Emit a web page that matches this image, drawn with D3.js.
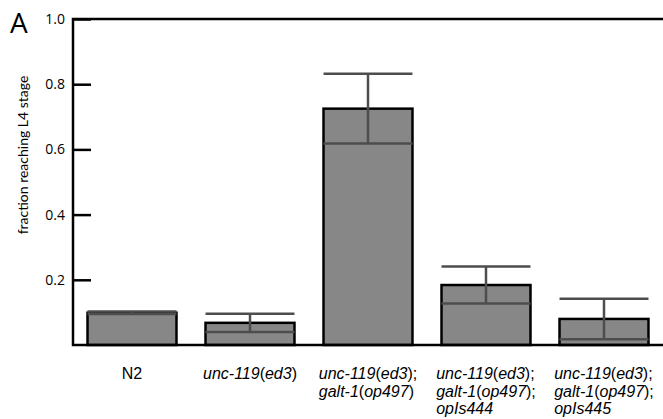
<!DOCTYPE html>
<html>
<head>
<meta charset="utf-8">
<script src="https://cdn.jsdelivr.net/npm/d3@7"></script>
<style>
  body { margin: 0; background: #fff; }
  svg { display: block; }
</style>
</head>
<body>
<div id="chart"></div>
<script>
// strains on the x axis, label lines use *...* for italic parts
var strains = ['N2', 'unc-119', 'unc-119;galt-1', 'unc-119;galt-1;opIs444', 'unc-119;galt-1;opIs445'];
var labelLines = [
  ['N2'],
  ['*unc-119*(*ed3*)'],
  ['*unc-119*(*ed3*);', '*galt-1*(*op497*)'],
  ['*unc-119*(*ed3*);', '*galt-1*(*op497*);', '*opIs444*'],
  ['*unc-119*(*ed3*);', '*galt-1*(*op497*);', '*opIs445*']
];
var fractionL4 = [0.099, 0.068, 0.725, 0.184, 0.080];
var errL4 = [0.004, 0.028, 0.107, 0.057, 0.062];
var yTicks = [0.2, 0.4, 0.6, 0.8, 1.0];

var W = 663, H = 419;
var margin = {top: 19, right: 0, bottom: 74, left: 73};

var svg = d3.select('#chart').append('svg')
    .attr('width', W)
    .attr('height', H);

var x = d3.scaleBand()
    .domain(strains)
    .range([margin.left, W - margin.right])
    .paddingInner(0.246)
    .paddingOuter(0.123);

var y = d3.scaleLinear()
    .domain([0, 1])
    .range([H - margin.bottom, margin.top]);

//bars
svg.append('g').selectAll('rect')
    .data(strains)
    .enter().append('rect')
    .attr('x', function(d) { return x(d); })
    .attr('y', function(d, i) { return y(fractionL4[i]); })
    .attr('width', x.bandwidth())
    .attr('height', function(d, i) { return y(0) - y(fractionL4[i]); })
    .attr('fill', '#878787')
    .attr('stroke', '#000')
    .attr('stroke-width', 2.5);

//error bars, caps as wide as the bar
var eb = svg.append('g')
    .attr('stroke', '#4d4d4d')
    .attr('stroke-width', 2.5);

strains.forEach(function(d, i) {
    var cx = x(d) + x.bandwidth() / 2;
    var hi = y(fractionL4[i] + errL4[i]);
    var lo = y(fractionL4[i] - errL4[i]);
    eb.append('line').attr('x1', cx).attr('x2', cx).attr('y1', hi).attr('y2', lo);
    eb.append('line').attr('x1', x(d)).attr('x2', x(d) + x.bandwidth()).attr('y1', hi).attr('y2', hi);
    eb.append('line').attr('x1', x(d)).attr('x2', x(d) + x.bandwidth()).attr('y1', lo).attr('y2', lo);
});

//y axis, ticks point into the plot
var yAxis = svg.append('g')
    .attr('transform', 'translate(' + margin.left + ',0)')
    .call(d3.axisLeft(y).tickValues(yTicks).tickSize(-18).tickPadding(8).tickFormat(d3.format('.1f')));

yAxis.select('.domain').remove();
yAxis.selectAll('.tick line').attr('stroke', '#000').attr('stroke-width', 2.5);
yAxis.selectAll('.tick text')
    .attr('fill', '#000')
    .style('font-family', '"Open Sans", Lato, sans-serif')
    .style('font-size', '14px');

//frame: top, left, bottom
var frame = svg.append('g')
    .attr('stroke', '#000')
    .attr('stroke-width', 2.5)
    .attr('fill', 'none');
frame.append('path')
    .attr('d', 'M' + W + ',' + y(1) + 'H' + margin.left + 'V' + y(0) + 'H' + W);

//y title
svg.append('text')
    .attr('transform', 'translate(28,' + ((y(0) + y(1)) / 2 - 27) + ') rotate(-90)')
    .attr('text-anchor', 'middle')
    .style('font-family', 'Lato, "Open Sans", sans-serif')
    .style('font-size', '14px')
    .text('fraction reaching L4 stage');

//panel letter
svg.append('text')
    .attr('x', 10)
    .attr('y', 33)
    .style('font-family', '"Open Sans", Lato, sans-serif')
    .style('font-size', '28px')
    .text('A');

//category labels: left aligned block, centred under the bar
var lab = svg.append('g')
    .style('font-family', '"Liberation Sans", Arial, sans-serif')
    .style('font-size', '16px');

strains.forEach(function(d, i) {
    var g = lab.append('g');
    var t = g.append('text');
    labelLines[i].forEach(function(line, j) {
        var parts = line.split('*');
        parts.forEach(function(p, k) {
            if (!p) return;
            var ts = t.append('tspan').text(p).style('font-style', k % 2 ? 'italic' : 'normal');
            if (k === 0 || (k === 1 && !parts[0])) {
                ts.attr('x', 0).attr('y', j * 17.5);
            }
        });
    });
    var bb = t.node().getBBox();
    var cx = x(d) + x.bandwidth() / 2;
    g.attr('transform', 'translate(' + (cx - bb.width / 2) + ',379)');
});
</script>
</body>
</html>
